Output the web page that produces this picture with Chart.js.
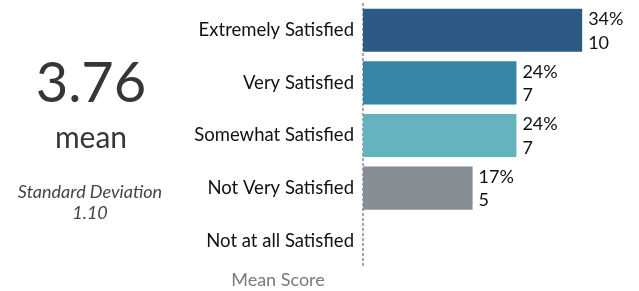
<!DOCTYPE html>
<html>
<head>
<meta charset="utf-8">
<script src="https://cdn.jsdelivr.net/npm/chart.js@4/dist/chart.umd.min.js"></script>
<style>
html,body{margin:0;padding:0;background:#fff;}
#wrap{position:relative;width:639px;height:291px;}
</style>
</head>
<body>
<div id="wrap"><canvas id="c" width="639" height="291"></canvas></div>
<script>
const categories = ['Extremely Satisfied', 'Very Satisfied', 'Somewhat Satisfied', 'Not Very Satisfied', 'Not at all Satisfied'];
const counts = [10, 7, 7, 5, 0];
const percentLabels = ['34%', '24%', '24%', '17%', ''];
const countLabels = ['10', '7', '7', '5', ''];
const barColors = ['#2D5986', '#3686A6', '#66B3C0', '#868D94', '#868D94'];
const meanValue = '3.76';
const stdDevValue = '1.10';

const FONT = 'Lato, "Open Sans", sans-serif';

const sidePlugin = {
  id: 'side',
  beforeDatasetsDraw(chart) {
    const ctx = chart.ctx;
    const a = chart.chartArea;
    ctx.save();
    ctx.strokeStyle = '#8a8a8a';
    ctx.lineWidth = 1.5;
    ctx.setLineDash([3, 2]);
    ctx.beginPath();
    ctx.moveTo(a.left, a.top - 1);
    ctx.lineTo(a.left, a.bottom + 1);
    ctx.stroke();
    ctx.restore();
  },
  afterDraw(chart) {
    const ctx = chart.ctx;
    ctx.save();
    ctx.textAlign = 'center';
    ctx.textBaseline = 'alphabetic';
    ctx.fillStyle = '#363636';
    ctx.font = '56px ' + FONT;
    ctx.fillText(meanValue, 91, 102);
    ctx.font = '30px ' + FONT;
    ctx.fillText('mean', 91, 148);
    ctx.fillStyle = '#444';
    ctx.font = 'italic 18px ' + FONT;
    ctx.fillText('Standard Deviation', 90, 198);
    ctx.fillText(stdDevValue, 90, 219);
    ctx.fillStyle = '#7a7a7a';
    ctx.font = '18px ' + FONT;
    ctx.fillText('Mean Score', 278, 286);
    // data labels
    const meta = chart.getDatasetMeta(0);
    ctx.textAlign = 'left';
    ctx.textBaseline = 'middle';
    ctx.fillStyle = '#111';
    ctx.font = '18px ' + FONT;
    meta.data.forEach((bar, i) => {
      if (!percentLabels[i]) return;
      const x = bar.x + 6;
      ctx.fillText(percentLabels[i], x, bar.y - 11);
      ctx.fillText(countLabels[i], x, bar.y + 12.5);
    });
    ctx.restore();
  }
};

new Chart(document.getElementById('c'), {
  type: 'bar',
  data: {
    labels: categories,
    datasets: [{
      data: counts,
      backgroundColor: barColors,
      borderWidth: 0,
      categoryPercentage: 1,
      barPercentage: 0.82
    }]
  },
  options: {
    indexAxis: 'y',
    responsive: false,
    animation: false,
    events: [],
    layout: { padding: { left: 0, right: 13, top: 4, bottom: 24 } },
    plugins: { legend: { display: false }, tooltip: { enabled: false } },
    scales: {
      x: { display: false, min: 0, max: 12 },
      y: {
        afterFit(scale) { scale.width = 363; scale.paddingTop = 0; scale.paddingBottom = 0; },
        grid: { display: false, drawTicks: false },
        border: { display: false },
        ticks: { color: '#111', font: { family: FONT, size: 18.5 }, padding: 9 }
      }
    }
  },
  plugins: [sidePlugin]
});
</script>
</body>
</html>
